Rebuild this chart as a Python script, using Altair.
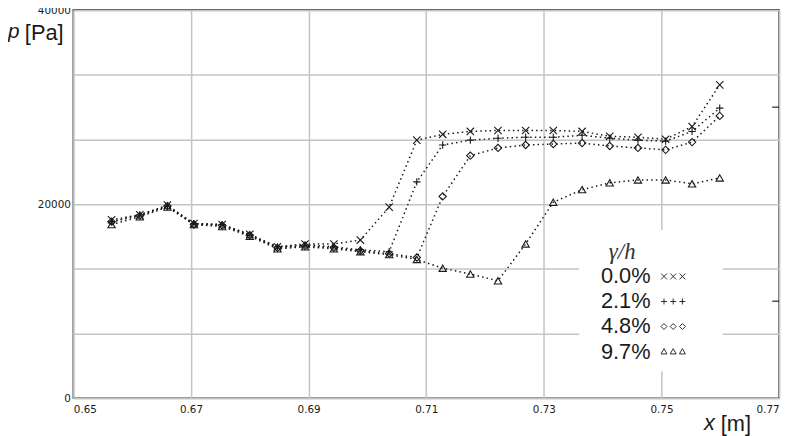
import altair as alt
import pandas as pd

# ---- data ----
x_m = [0.6565, 0.6613, 0.6660, 0.6705, 0.6753, 0.6800, 0.6847, 0.6894, 0.6943,
       0.6988, 0.7037, 0.7084, 0.7128, 0.7175, 0.7222, 0.7269, 0.7316, 0.7365,
       0.7412, 0.7460, 0.7507, 0.7552, 0.7599]
p_00 = [18400, 18900, 19900, 18000, 17900, 16900, 15600, 15900, 15900, 16300,
        19700, 26600, 27200, 27500, 27600, 27600, 27600, 27500, 27000, 26900,
        26700, 28000, 32300]
p_21 = [18200, 18900, 19800, 18000, 17900, 16800, 15600, 15800, 15600, 15300,
        15100, 22300, 26100, 26600, 26800, 26900, 26900, 27100, 26800, 26600,
        26500, 27500, 29900]
p_48 = [18200, 18800, 19800, 17900, 17800, 16800, 15500, 15700, 15500, 15200,
        14900, 14500, 20800, 25000, 25800, 26100, 26200, 26300, 26000, 25800,
        25600, 26400, 29100]
p_97 = [17900, 18700, 19700, 17900, 17700, 16700, 15400, 15600, 15400, 15100,
        14800, 14300, 13400, 12800, 12100, 15900, 20200, 21500, 22200, 22500,
        22500, 22100, 22700]
series_labels = ["0.0%", "2.1%", "4.8%", "9.7%"]
x_ticks = [0.65, 0.67, 0.69, 0.71, 0.73, 0.75, 0.77]
y_grid = [0, 40000 / 6, 80000 / 6, 20000, 160000 / 6, 200000 / 6, 40000]
y_minor_right = [10000, 30000]

rows = []
for lab, vals in zip(series_labels, [p_00, p_21, p_48, p_97]):
    for xv, pv in zip(x_m, vals):
        rows.append({"x": xv, "p": pv, "series": lab})
df = pd.DataFrame(rows)

# ---- styling ----
W, H = 713, 392
INK = "#1a1a1a"
TICK_FONT = "DejaVu Sans"
SANS = "Liberation Sans"

X_PATH = "M-1,-1L1,1M1,-1L-1,1"
PLUS_PATH = "M-1,0L1,0M0,-1L0,1"
shape_range = [X_PATH, PLUS_PATH, "diamond", "triangle-up"]


def triple(kind, d=3.1):
    parts = []
    for c in (-d, 0.0, d):
        if kind == 0:
            parts.append(f"M{c-1},-1L{c+1},1M{c+1},-1L{c-1},1")
        elif kind == 1:
            parts.append(f"M{c-1},0L{c+1},0M{c},-1L{c},1")
        elif kind == 2:
            parts.append(f"M{c},-1L{c+1},0L{c},1L{c-1},0Z")
        else:
            parts.append(f"M{c},-1L{c+1},0.8L{c-1},0.8Z")
    return "".join(parts)


xs = alt.Scale(domain=[0.65, 0.77], nice=False, zero=False)
ys = alt.Scale(domain=[0, 40000], nice=False, zero=True)

x_axis = alt.Axis(values=x_ticks, format=".2f", grid=True, ticks=False, domain=False,
                  labelPadding=6, title=None, labelFont=TICK_FONT, labelFontSize=10.5,
                  labelColor=INK, gridColor="#c4c4c4", gridWidth=1.5)
y_axis = alt.Axis(values=y_grid, grid=True, ticks=False, domain=False, labelPadding=3,
                  title=None, labelFont=TICK_FONT, labelFontSize=10.5, labelColor=INK,
                  gridColor="#c4c4c4", gridWidth=1.5,
                  labelExpr="datum.value == 0 || datum.value == 20000 || datum.value == 40000 ? format(datum.value, 'd') : ''")

X = alt.X("x:Q", scale=xs, axis=x_axis)
Y = alt.Y("p:Q", scale=ys, axis=y_axis)

base = alt.Chart(df)
lines = base.mark_line(color=INK, strokeWidth=1.5, strokeDash=[1.5, 3.2]).encode(
    x=X, y=Y, detail="series:N",
)
points = base.mark_point(filled=False, color=INK, strokeWidth=1.1, size=55, opacity=1).encode(
    x=X, y=Y,
    shape=alt.Shape("series:N", scale=alt.Scale(domain=series_labels, range=shape_range), legend=None),
)

minor = alt.Chart(pd.DataFrame({"p": y_minor_right})).mark_rule(color="#333", strokeWidth=1.3).encode(
    y=Y, x=alt.value(W - 7), x2=alt.value(W)
)

one = pd.DataFrame({"a": [0]})
box = alt.Chart(one).mark_rect(fill="white").encode(
    x=alt.value(511), x2=alt.value(656), y=alt.value(222), y2=alt.value(365)
)

layers = [lines, minor, box]

legend_title = alt.Chart(one).mark_text(text="γ/h", font="Liberation Serif", fontStyle="italic",
                                        fontSize=23, align="left", baseline="middle", color="#333").encode(
    x=alt.value(541), y=alt.value(244))
layers.append(legend_title)
for i, lab in enumerate(series_labels):
    yy = 269 + i * 25.3
    layers.append(alt.Chart(one).mark_text(text=lab, font=SANS, fontSize=22, align="left",
                                           baseline="middle", color=INK).encode(
        x=alt.value(533), y=alt.value(yy)))
    layers.append(alt.Chart(one).mark_point(shape=triple(i), size=36, filled=False, color=INK,
                                            strokeWidth=0.9, opacity=1).encode(
        x=alt.value(606), y=alt.value(yy)))

# axis titles as text
layers.append(alt.Chart(one).mark_text(text="p", font=SANS, fontStyle="italic", fontSize=21,
                                       align="left", baseline="alphabetic", color=INK).encode(
    x=alt.value(-66), y=alt.value(28)))
layers.append(alt.Chart(one).mark_text(text="[Pa]", font=SANS, fontSize=22,
                                       align="left", baseline="alphabetic", color=INK).encode(
    x=alt.value(-49), y=alt.value(30)))
layers.append(alt.Chart(one).mark_text(text="x", font=SANS, fontStyle="italic", fontSize=22,
                                       align="left", baseline="alphabetic", color=INK).encode(
    x=alt.value(637), y=alt.value(424)))
layers.append(alt.Chart(one).mark_text(text="[m]", font=SANS, fontSize=22,
                                       align="left", baseline="alphabetic", color=INK).encode(
    x=alt.value(654), y=alt.value(425)))

layers.append(points)

chart = alt.layer(*layers).properties(
    width=W, height=H,
    autosize=alt.AutoSizeParams(type="none"),
    padding={"left": 66, "top": 0, "right": 13, "bottom": 36},
    background="white",
).configure_view(stroke="#3a3a3a", strokeWidth=1.6)

chart.save("out.html", embed_options={"renderer": "svg", "actions": False})
